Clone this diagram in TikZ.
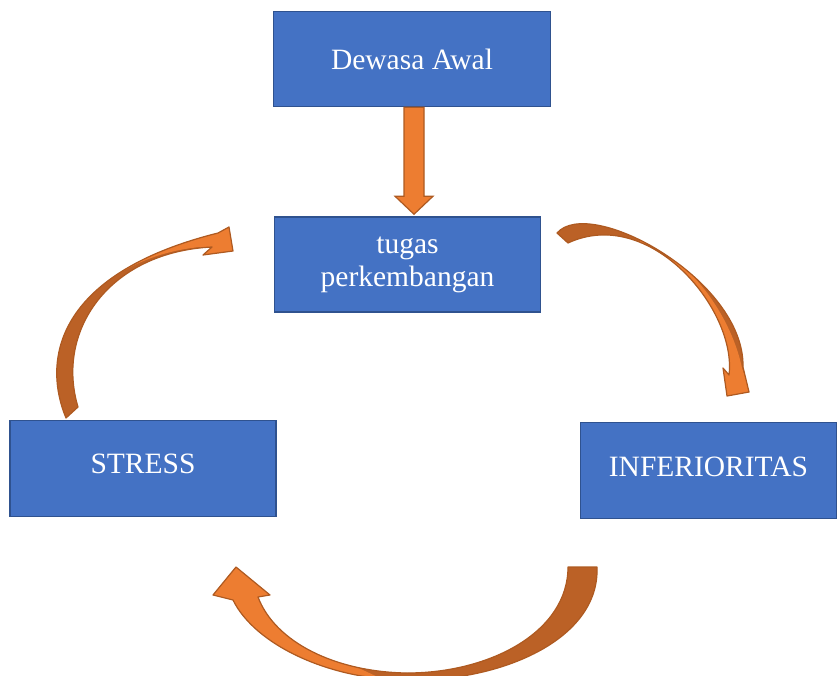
\documentclass[tikz,border=0pt]{standalone}
\usepackage{fontspec}
\setmainfont{Liberation Serif}
\usetikzlibrary{calc}

\definecolor{boxfill}{RGB}{68,114,196}
\definecolor{boxline}{RGB}{47,82,143}
\definecolor{arrowlight}{RGB}{237,125,49}
\definecolor{arrowdark}{RGB}{187,97,38}
\definecolor{arrowline}{RGB}{174,90,33}

\tikzset{
  box/.style={draw=boxline, fill=boxfill, line width=1.5pt, text=white,
    inner sep=0pt, align=center, font=\fontsize{29.5}{33}\selectfont},
  blockarrow/.style={draw=arrowline, fill=arrowlight, line width=1.2pt},
  bandline/.style={draw=arrowline, line width=1.2pt, line join=round},
}

% curved arrows, outlines in pixel units
\newcommand{\arcstress}{(66,418) .. controls (40,355) and (62,272) .. (218,233)
  -- (229,227) -- (233,251) -- (203,255) -- (212,247)
  .. controls (110,252) and (55,330) .. (78,407) -- cycle}
\newcommand{\arcinfer}{(557,233) .. controls (590,195) and (745,280) .. (743,367)
  -- (749,392) -- (727,396) -- (723,368) -- (729,375)
  .. controls (737,310) and (650,205) .. (568,243) -- cycle}
\newcommand{\arcbottom}{(597,567) .. controls (600,640) and (500,682) .. (407,680)
  .. controls (330,680) and (255,645) .. (233,600)
  -- (213,595) -- (236,567) -- (270,595) -- (258,597)
  .. controls (275,642) and (335,672) .. (407,673)
  .. controls (490,673) and (568,632) .. (568,567) -- cycle}

\begin{document}
\begin{tikzpicture}[x=1pt, y=-1pt]
  \useasboundingbox (0,0) rectangle (837,676);

  % Boxes
  \node[box, minimum width=277pt, minimum height=95pt] (dewasa) at (412,59) {\raisebox{-2pt}{Dewasa Awal}};
  \node[box, minimum width=266pt, minimum height=95pt] (tugas) at (407.5,264.5)
    {\raisebox{-4pt}{tugas}\\\raisebox{-4pt}{perkembangan}};
  \node[box, minimum width=266pt, minimum height=96pt] (stress) at (143,468.5) {\raisebox{9pt}{STRESS}};
  \node[box, minimum width=256pt, minimum height=96pt] (inferior) at (708.5,470.5) {\raisebox{8.5pt}{INFERIORITAS}};

  % Straight arrow
  \coordinate (dtop) at ($(dewasa.south)+(2,0)$);
  \coordinate (dtip) at ($(tugas.north)+(6.5,-2)$);
  \draw[blockarrow] ($(dtop)+(-10,0)$) -- ($(dtop)+(10,0)$) -- ($(dtip)+(10,-18)$)
    -- ($(dtip)+(19,-18)$) -- (dtip) -- ($(dtip)+(-19,-18)$) -- ($(dtip)+(-10,-18)$) -- cycle;

  % Curved arrows: dark band, light face, outline
  \fill[arrowdark] \arcstress;
  \begin{scope}
    \clip \arcstress;
    \fill[arrowlight] (85,300) .. controls (120,266) and (160,251) .. (200,247)
      -- (200,262) -- (245,262) -- (245,200) -- (30,200) -- (30,300) -- cycle;
  \end{scope}
  \draw[bandline] \arcstress;

  \fill[arrowdark] \arcinfer;
  \begin{scope}
    \clip \arcinfer;
    \fill[arrowlight] (640,238) .. controls (695,262) and (732,320) .. (742,368)
      -- (760,420) -- (640,420) -- cycle;
  \end{scope}
  \draw[bandline] \arcinfer;

  \fill[arrowdark] \arcbottom;
  \begin{scope}
    \clip \arcbottom;
    \fill[arrowlight] (200,540) -- (350,540) -- (350,664) -- (410,692) -- (200,692) -- cycle;
  \end{scope}
  \draw[bandline] \arcbottom;
\end{tikzpicture}
\end{document}
